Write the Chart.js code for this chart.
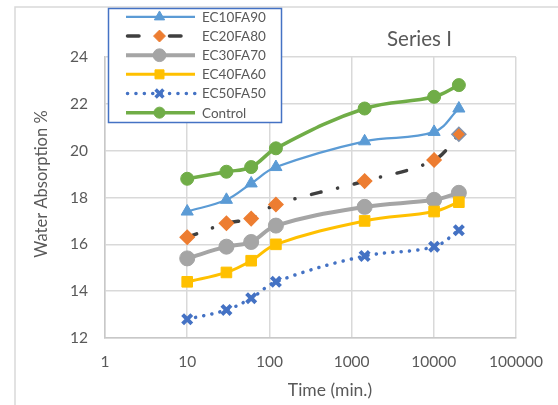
<!DOCTYPE html>
<html>
<head>
<meta charset="utf-8">
<script src="https://cdn.jsdelivr.net/npm/chart.js@4/dist/chart.umd.min.js"></script>
<style>
  html, body { margin: 0; padding: 0; background: #ffffff; }
  #wrap { width: 558px; height: 405px; position: relative; }
</style>
</head>
<body>
<div id="wrap"><canvas id="c" width="558" height="405"></canvas></div>
<script>
// ---- data ----
const times = [10, 30, 60, 120, 1440, 10080, 20160];
const seriesNames = ['EC10FA90', 'EC20FA80', 'EC30FA70', 'EC40FA60', 'EC50FA50', 'Control'];
const ec10fa90 = [17.4, 17.9, 18.6, 19.3, 20.4, 20.8, 21.8];
const ec20fa80 = [16.3, 16.9, 17.1, 17.7, 18.7, 19.6, 20.7];
const ec30fa70 = [15.4, 15.9, 16.1, 16.8, 17.6, 17.9, 18.2];
const ec40fa60 = [14.4, 14.8, 15.3, 16.0, 17.0, 17.4, 17.8];
const ec50fa50 = [12.8, 13.2, 13.7, 14.4, 15.5, 15.9, 16.6];
const control  = [18.8, 19.1, 19.3, 20.1, 21.8, 22.3, 22.8];
const xTickValues = [1, 10, 100, 1000, 10000, 100000];
const yTickValues = [12, 14, 16, 18, 20, 22, 24];
const chartTitle = 'Series I';
const xTitle = 'Time (min.)';
const yTitle = 'Water Absorption %';

const FONT = 'Lato, "Open Sans", sans-serif';
const TEXT = '#595959';

function pts(vals) { return times.map((t, i) => ({ x: t, y: vals[i] })); }

const styles = [
  { color: '#5B9BD5', width: 2.25, dash: [], point: 'triangle', pColor: '#5B9BD5', r: 7 },
  { color: '#3F3F3F', width: 3.5, dash: [10, 17, 0.1, 17], point: 'rectRot', pColor: '#ED7D31', r: 7, legendDash: [11.5, 30.5] },
  { color: '#A5A5A5', width: 4, dash: [], point: 'circle', pColor: '#A5A5A5', r: 7.5 },
  { color: '#FFC000', width: 3, dash: [], point: 'rect', pColor: '#FFC000', r: 7.5 },
  { color: '#4472C4', width: 3.5, dash: [0.1, 8.3], point: 'crossRot', pColor: '#4472C4', r: 6.5 },
  { color: '#70AD47', width: 3.5, dash: [], point: 'circle', pColor: '#70AD47', r: 6.5 }
];
const allValues = [ec10fa90, ec20fa80, ec30fa70, ec40fa60, ec50fa50, control];

const datasets = allValues.map((vals, i) => {
  const s = styles[i];
  const borderCols = vals.map(() => s.pColor);
  if (i === 1) borderCols[borderCols.length - 1] = '#8093AE';
  return {
    label: seriesNames[i],
    data: pts(vals),
    borderColor: s.color,
    backgroundColor: s.pColor,
    borderWidth: s.width,
    borderDash: s.dash,
    borderCapStyle: s.dash.length ? 'round' : 'butt',
    tension: 0.38,
    pointStyle: s.point,
    pointRadius: s.r,
    pointHoverRadius: s.r,
    pointBackgroundColor: s.pColor,
    pointBorderColor: i === 1 ? borderCols : s.pColor,
    pointBorderWidth: s.point === 'crossRot' ? 4 : (i === 1 ? 1.5 : 1),
    fill: false,
    order: 6 - i
  };
});

const deco = {
  id: 'deco',
  beforeDraw(chart) {
    const ctx = chart.ctx;
    ctx.save();
    ctx.fillStyle = '#ffffff';
    ctx.fillRect(0, 0, chart.width, chart.height);
    ctx.strokeStyle = '#d9d9d9';
    ctx.lineWidth = 1.5;
    ctx.strokeRect(15, 7, 800, 600);
    ctx.restore();
  },
  afterDraw(chart) {
    const ctx = chart.ctx;
    ctx.save();
    // chart title
    ctx.fillStyle = TEXT;
    ctx.font = '20.5px ' + FONT;
    ctx.textAlign = 'left';
    ctx.textBaseline = 'alphabetic';
    ctx.fillText(chartTitle, 387, 46);
    // x title
    ctx.font = '17.5px ' + FONT;
    ctx.textAlign = 'center';
    ctx.textBaseline = 'middle';
    ctx.fillText(xTitle, 330, 390);
    // y title
    ctx.save();
    ctx.translate(42, 184);
    ctx.rotate(-Math.PI / 2);
    ctx.font = '16.5px ' + FONT;
    ctx.fillText(yTitle, 0, 0);
    ctx.restore();

    // legend
    const lx = 108.5, ly = 8.5, lw = 173, lh = 114;
    ctx.fillStyle = '#ffffff';
    ctx.fillRect(lx, ly, lw, lh);
    ctx.strokeStyle = '#4472C4';
    ctx.lineWidth = 1.5;
    ctx.strokeRect(lx, ly, lw, lh);
    chart.data.datasets.forEach((ds, i) => {
      const s = styles[i];
      const cy = 16.9 + i * 19.15;
      ctx.save();
      ctx.strokeStyle = s.color;
      ctx.lineWidth = s.width;
      const ld = s.legendDash || s.dash;
      ctx.setLineDash(ld);
      ctx.lineCap = ld.length ? 'round' : 'butt';
      ctx.beginPath();
      ctx.moveTo(ld.length ? 127.5 : 126, cy);
      ctx.lineTo(195, cy);
      ctx.stroke();
      ctx.restore();
      ctx.save();
      const bw = s.point === 'crossRot' ? 3.5 : 1;
      ctx.fillStyle = s.pColor;
      ctx.strokeStyle = s.pColor;
      ctx.lineWidth = bw;
      ctx.setLineDash([]);
      if (Chart.helpers && Chart.helpers.drawPoint) {
        Chart.helpers.drawPoint(ctx, { pointStyle: s.point, radius: s.r * 0.85, rotation: 0, borderWidth: bw }, 159.5, cy);
      }
      ctx.restore();
      ctx.fillStyle = TEXT;
      ctx.font = '13.5px ' + FONT;
      ctx.textAlign = 'left';
      ctx.textBaseline = 'middle';
      ctx.fillText(ds.label, 202, cy + 0.5);
    });
    ctx.restore();
  }
};

new Chart(document.getElementById('c'), {
  type: 'line',
  data: { datasets },
  plugins: [deco],
  options: {
    responsive: false,
    animation: false,
    devicePixelRatio: 1,
    layout: { padding: { left: 0, top: 57, right: 40, bottom: 0 } },
    plugins: { legend: { display: false }, title: { display: false }, tooltip: { enabled: false } },
    scales: {
      x: {
        type: 'logarithmic',
        min: 1, max: 100000,
        afterBuildTicks: (s) => { s.ticks = xTickValues.map(v => ({ value: v })); },
        afterFit: (s) => { s.height = 67; },
        ticks: {
          callback: (v) => String(v),
          color: TEXT,
          font: { family: FONT, size: 15.5 },
          padding: 15,
          maxRotation: 0,
          autoSkip: false
        },
        grid: { color: '#d9d9d9', lineWidth: 1.5, drawTicks: false },
        border: { color: '#c8c8c8', width: 1.5 }
      },
      y: {
        type: 'linear',
        min: 12, max: 24,
        afterBuildTicks: (s) => { s.ticks = yTickValues.map(v => ({ value: v })); },
        afterFit: (s) => { s.width = 105; },
        ticks: {
          color: TEXT,
          font: { family: FONT, size: 15.5 },
          padding: 17
        },
        grid: { color: '#d9d9d9', lineWidth: 1.5, drawTicks: false },
        border: { color: '#c8c8c8', width: 1.5 }
      }
    }
  }
});
</script>
</body>
</html>
